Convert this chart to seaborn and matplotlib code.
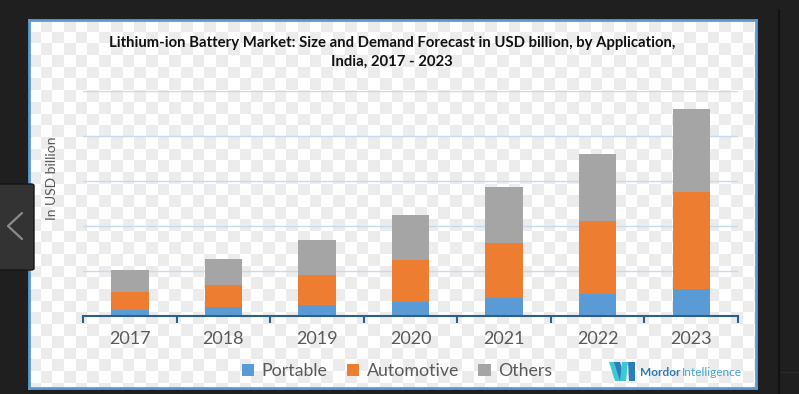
import matplotlib
matplotlib.use("Agg")
import matplotlib.pyplot as plt
import numpy as np
import pandas as pd
import seaborn as sns
from matplotlib.colors import ListedColormap
from matplotlib.lines import Line2D
from matplotlib.patches import FancyBboxPatch, Patch, Polygon


YEARS = ["2017", "2018", "2019", "2020", "2021", "2022", "2023"]
PORTABLE = [0.13, 0.18, 0.23, 0.31, 0.40, 0.47, 0.59]
AUTOMOTIVE = [0.39, 0.50, 0.67, 0.92, 1.21, 1.63, 2.16]
OTHERS = [0.50, 0.58, 0.78, 1.00, 1.25, 1.50, 1.85]
SERIES = ["Portable", "Automotive", "Others"]
COLORS = ["#5b9bd5", "#ed7d31", "#a5a5a5"]

TITLE_1 = "Lithium-ion Battery Market: Size and Demand Forecast in USD billion, by Application,"
TITLE_2 = "India, 2017 - 2023"
Y_LABEL = "In USD billion"

W, H = 799, 394


def fx(x):
    return x / W


def fy(y):
    return 1 - y / H


sns.set_theme(style="white")
plt.rcParams["font.family"] = ["Lato", "DejaVu Sans"]

fig = plt.figure(figsize=(W / 100, H / 100), dpi=100, facecolor="#1f1f1f")

# screenshot chrome: right divider and left carousel button
fig.add_artist(Line2D([fx(779), fx(779)], [fy(10), fy(394)], color="#121212", lw=1.5))
fig.add_artist(Line2D([fx(781), fx(799)], [fy(372), fy(372)], color="#2c2c2c", lw=1))
fig.add_artist(FancyBboxPatch((fx(-6), fy(270)), fx(40), (270 - 184) / H,
                              boxstyle="round,pad=0,rounding_size=0.004",
                              transform=fig.transFigure, facecolor="#333333",
                              edgecolor="#151515", lw=1, zorder=5))
fig.add_artist(Line2D([fx(22), fx(8), fx(22)], [fy(213), fy(226), fy(239)],
                      color="#8c8c8c", lw=1.6, zorder=6))

# chart panel with checkerboard background
bg = fig.add_axes([fx(29), fy(388), (756 - 29) / W, (388 - 20) / H])
cell = 11.7
checker = np.add.outer(np.arange(33), np.arange(63)) % 2
bg.imshow(checker, cmap=ListedColormap(["#ffffff", "#ececec"]), aspect="auto",
          interpolation="nearest", extent=(0, 63 * cell, 33 * cell, 0))
bg.set_xlim(0, 727)
bg.set_ylim(368, 0)
bg.set_xticks([])
bg.set_yticks([])
for s in bg.spines.values():
    s.set_color("#5b9bd5")
    s.set_linewidth(2)

# stacked bars
df = pd.DataFrame({"year": YEARS, "Portable": PORTABLE,
                   "Automotive": AUTOMOTIVE, "Others": OTHERS})
cum = df[SERIES].cumsum(axis=1)
cum["year"] = df["year"]

ax = fig.add_axes([fx(83), fy(315.5), (738 - 83) / W, (315.5 - 90.5) / H])
ax.patch.set_alpha(0)
for name, color in reversed(list(zip(SERIES, COLORS))):
    sns.barplot(data=cum, x="year", y=name, color=color, saturation=1,
                width=0.4, linewidth=0, ax=ax)

ax.set_xlim(-0.5, 6.5)
ax.set_ylim(0, 5)
ax.set_yticks(range(1, 6))
ax.set_yticklabels([])
ax.yaxis.grid(True, color="#c6dbef", lw=1)
ax.set_axisbelow(True)
ax.tick_params(axis="y", length=0)
ax.set_xlabel("")
ax.set_ylabel("")
for side in ["top", "right", "left"]:
    ax.spines[side].set_visible(False)
ax.spines["bottom"].set_color("#2e5f8a")
ax.spines["bottom"].set_linewidth(1.5)
ax.set_xticks(np.arange(-0.5, 7), minor=True)
ax.tick_params(axis="x", which="minor", length=5, width=1.5, color="#2e5f8a",
               direction="out", bottom=True)
ax.tick_params(axis="x", which="major", length=0, pad=11, labelsize=13,
               labelcolor="#595959")

# texts
fig.text(fx(392), fy(43), TITLE_1, ha="center", va="center", fontsize=10.7,
         fontweight="bold", color="#111111")
fig.text(fx(392), fy(62), TITLE_2, ha="center", va="center", fontsize=10.7,
         fontweight="bold", color="#111111")
fig.text(fx(52), fy(178), Y_LABEL, rotation=90, ha="center", va="center",
         fontsize=10, color="#595959")

handles = [Patch(facecolor=c, edgecolor="none", label=n) for n, c in zip(SERIES, COLORS)]
fig.legend(handles=handles, loc="center", bbox_to_anchor=(fx(397), fy(371)),
           ncol=3, frameon=False, fontsize=12.8, handlelength=0.7, handleheight=0.7,
           handletextpad=0.4, columnspacing=1.1, labelcolor="#595959")

# logo
teal, blue = "#3ec8d4", "#2a7fb8"
for pts, c in [
    ([(609, 362), (615, 362), (621, 381), (615, 381)], teal),
    ([(614, 362), (620, 362), (624, 375), (620, 381)], blue),
    ([(622, 362), (628, 362), (626, 381), (620, 381)], teal),
    ([(628, 362), (635, 362), (635, 381), (629, 381)], blue),
]:
    fig.add_artist(Polygon([(fx(x), fy(y)) for x, y in pts], closed=True,
                           transform=fig.transFigure, facecolor=c, edgecolor="none"))
mordor = fig.text(fx(640), fy(372), "Mordor", ha="left", va="center", fontsize=8.6,
                  fontweight="bold", color="#2a7ab5")
renderer = fig.canvas.get_renderer()
x_end = mordor.get_window_extent(renderer).x1
fig.text((x_end + 1.5) / W, fy(372), "Intelligence", ha="left", va="center",
         fontsize=8.6, color="#41a4d6")

fig.savefig("out.png", dpi=100, facecolor=fig.get_facecolor())
